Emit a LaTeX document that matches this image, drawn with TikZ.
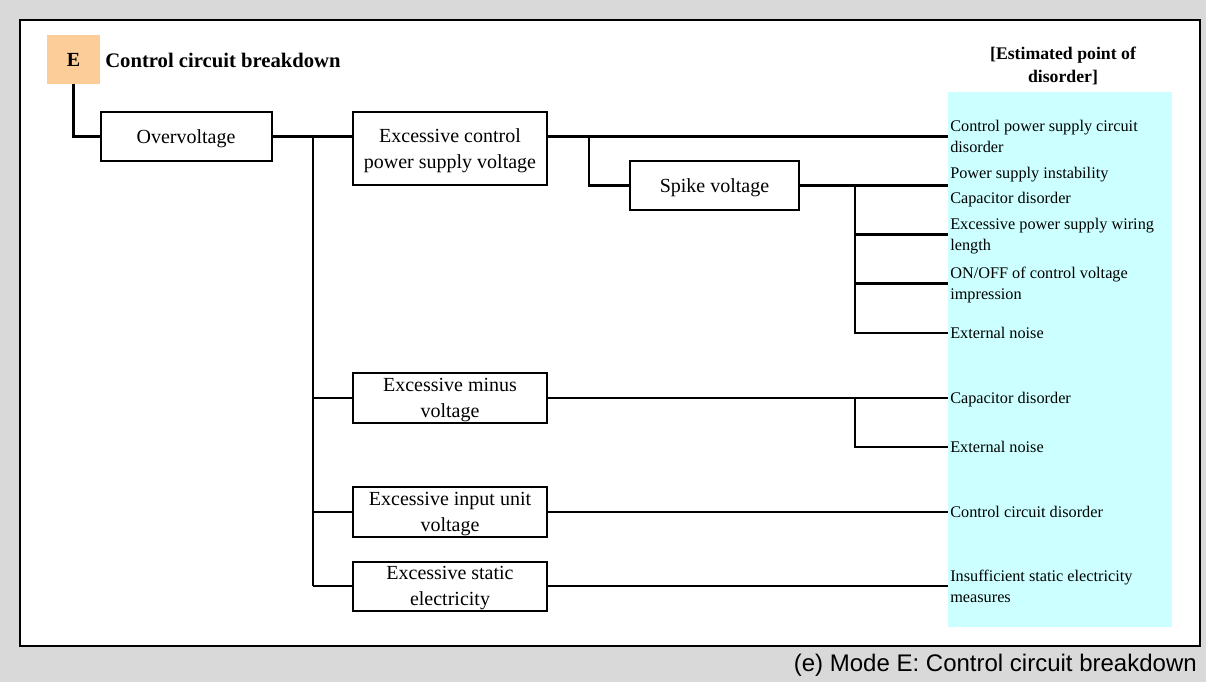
\documentclass[tikz,border=0pt]{standalone}
\usepackage{fontspec}
\setmainfont{Liberation Serif}
\newfontfamily\arialf{Liberation Sans}
\definecolor{bggray}{RGB}{217,217,217}
\definecolor{peach}{RGB}{252,204,153}
\definecolor{lightcyan}{RGB}{204,255,255}
\newcommand\bxfont{\fontsize{15}{19.5}\selectfont}
\newcommand\lbfont{\fontsize{12.2}{15.75}\selectfont}
\begin{document}
\begin{tikzpicture}[x=0.75pt,y=-0.75pt,
  box/.style={draw, line width=1.5pt, fill=white, inner sep=0pt, text depth=0pt, align=center, font=\bxfont},
  lab/.style={anchor=west, inner sep=0pt, inner xsep=1.5pt, text depth=0pt, align=left, font=\lbfont},
  thk/.style={line width=2pt},
  thn/.style={line width=1.1pt}]
\useasboundingbox (0,0) rectangle (1206,682);
\fill[bggray] (0,0) rectangle (1206,682);
\draw[line width=1.5pt, fill=white] (20,20) rectangle (1200,646);
\fill[lightcyan] (948,92) rectangle (1172,627);

\node[fill=peach, minimum width=39.75pt, minimum height=36.75pt, inner sep=0pt,
      font=\bfseries\fontsize{15}{18}\selectfont] (E) at (73.5,59.5) {E};
\node[anchor=west, inner sep=0pt, font=\bfseries\fontsize{15.5}{18}\selectfont] (title) at (105,60) {Control circuit breakdown};
\node[align=center, inner sep=0pt, text depth=0pt, font=\bfseries\fontsize{13.3}{17.25}\selectfont] (hdr) at (1063,64.5) {[Estimated point of\\disorder]};

\node[box, minimum width=128.25pt, minimum height=36.75pt] (ov) at (186,136.5) {Overvoltage};
\node[box, line width=2pt, minimum width=145.5pt, minimum height=54.75pt] (ecp) at (450,148.5) {Excessive control\\power supply voltage};
\node[box, minimum width=126.75pt, minimum height=36.75pt] (spk) at (714.5,185.5) {Spike voltage};
\node[box, minimum width=145.5pt, minimum height=37.5pt] (emv) at (450,398) {Excessive minus\\voltage};
\node[box, minimum width=145.5pt, minimum height=37.5pt] (eiu) at (450,512) {Excessive input unit\\voltage};
\node[box, minimum width=145.5pt, minimum height=36.75pt] (ese) at (450,586) {Excessive static\\electricity};

\node[lab] (l1) at (948,136.5) {Control power supply circuit\\disorder};
\node[lab] (l2) at (948,185.5) {Power supply instability\\[3pt]Capacitor disorder};
\node[lab] (l3) at (948,234.5) {Excessive power supply wiring\\length};
\node[lab] (l4) at (948,283.5) {ON/OFF of control voltage\\impression};
\node[lab] (l5) at (948,333) {External noise};
\node[lab] (l6) at (948,398) {Capacitor disorder};
\node[lab] (l7) at (948,447) {External noise};
\node[lab] (l8) at (948,512) {Control circuit disorder};
\node[lab] (l9) at (948,586) {Insufficient static electricity\\measures};

\node[anchor=east, inner sep=0pt, font=\arialf\fontsize{18}{20}\selectfont] (cap) at (1197,665) {(e) Mode E: Control circuit breakdown};

\coordinate (tr) at (313,0);
\coordinate (b1) at (589,0);
\coordinate (b2) at (855,0);

\draw[thk] (E.south) |- (ov.west);
\draw[thk] (ov.east) -- (ov.east -| ecp.west);
\draw[thn] (ov.east -| tr) -- (ese.west -| tr);
\draw[thn] (emv.west -| tr) -- (emv.west);
\draw[thn] (eiu.west -| tr) -- (eiu.west);
\draw[thk] (ese.west -| tr) -- (ese.west);

\draw[thk] (ecp.east |- l1.west) -- (l1.west);
\draw[thk] (b1 |- l1.west) |- (spk.west);
\draw[thk] (spk.east) -- (l2.west);
\draw[thk] (b2 |- spk.east) |- (l5.west);
\draw[thk] (b2 |- l3.west) -- (l3.west);
\draw[thk] (b2 |- l4.west) -- (l4.west);

\draw[thn] (emv.east) -- (l6.west);
\draw[thk] (b2 |- l6.west) |- (l7.west);
\draw[thn] (eiu.east) -- (l8.west);
\draw[thk] (ese.east) -- (l9.west);
\end{tikzpicture}
\end{document}
